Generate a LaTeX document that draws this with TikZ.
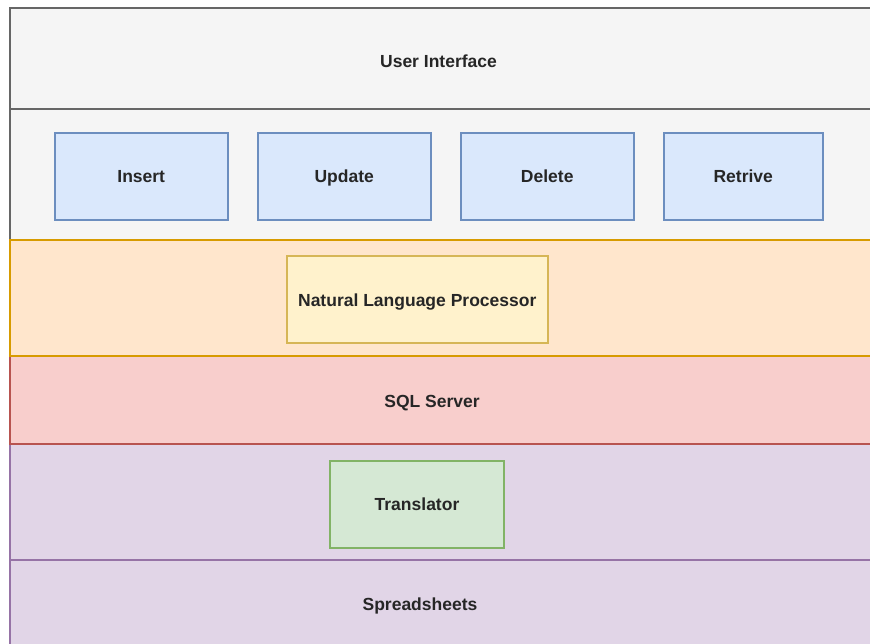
\documentclass[tikz,border=0pt]{standalone}
\usepackage{fontspec}
\setmainfont{Liberation Sans}
\begin{document}
\begin{tikzpicture}[x=1pt,y=-1pt,
  band/.style={line width=2pt},
  graybox/.style={band,fill=gfill,draw=gline},
  orangebox/.style={band,fill=ofill,draw=oline},
  redbox/.style={band,fill=rfill,draw=rline},
  purplebox/.style={band,fill=pfill,draw=pline},
  inbox/.style={draw,line width=2pt,minimum width=173.5pt,minimum height=87pt,inner sep=0pt,anchor=north west},
  bluebox/.style={inbox,fill=bfill,draw=bline},
  lbl/.style={font=\fontsize{17.5}{21}\selectfont\bfseries,text=txt,inner sep=0pt,text height=12.5pt,text depth=0pt}
]
\definecolor{gfill}{HTML}{F5F5F5}\definecolor{gline}{HTML}{666666}
\definecolor{bfill}{HTML}{DAE8FC}\definecolor{bline}{HTML}{6C8EBF}
\definecolor{ofill}{HTML}{FFE6CC}\definecolor{oline}{HTML}{D79B00}
\definecolor{yfill}{HTML}{FFF2CC}\definecolor{yline}{HTML}{D6B656}
\definecolor{rfill}{HTML}{F8CECC}\definecolor{rline}{HTML}{B85450}
\definecolor{pfill}{HTML}{E1D5E7}\definecolor{pline}{HTML}{9673A6}
\definecolor{gnfill}{HTML}{D5E8D4}\definecolor{gnline}{HTML}{82B366}
\definecolor{txt}{HTML}{262626}
\useasboundingbox (0,0) rectangle (870,644);
\clip (0,0) rectangle (870,644);
\fill[white] (0,0) rectangle (870,644);
% bands
\draw[graybox] (10,8.5) rectangle (880,109.5);
\draw[graybox] (10,109.5) rectangle (880,240);
\draw[purplebox] (10,560) rectangle (880,660);
\draw[purplebox] (10,444) rectangle (880,560);
\draw[redbox] (10,356) rectangle (880,444);
\draw[orangebox] (10,240) rectangle (880,356);
% labels of bands
\node[lbl] (ui) at (438.5,61) {User Interface};
\node[lbl] (sql) at (432,401) {SQL Server};
\node[lbl] (sheets) at (420,604) {Spreadsheets};
% inner boxes
\node[bluebox] (insert) at (53.5,132) {};
\node[bluebox] (update) at (256.5,132) {};
\node[bluebox] (delete) at (459.5,132) {};
\node[bluebox,minimum width=159.5pt] (retrive) at (662.5,132) {};
\node[lbl] at (insert.center) {Insert};
\node[lbl] at (update.center) {Update};
\node[lbl] at (delete.center) {Delete};
\node[lbl] at (retrive.center) {Retrive};
\node[inbox,fill=yfill,draw=yline,minimum width=261.5pt,minimum height=86.5pt] (nlp) at (285.5,255.5) {};
\node[lbl] at (nlp.center) {Natural Language Processor};
\node[inbox,fill=gnfill,draw=gnline,minimum width=174pt,minimum height=87pt] (trans) at (329,459.5) {};
\node[lbl] at (trans.center) {Translator};
\end{tikzpicture}
\end{document}
